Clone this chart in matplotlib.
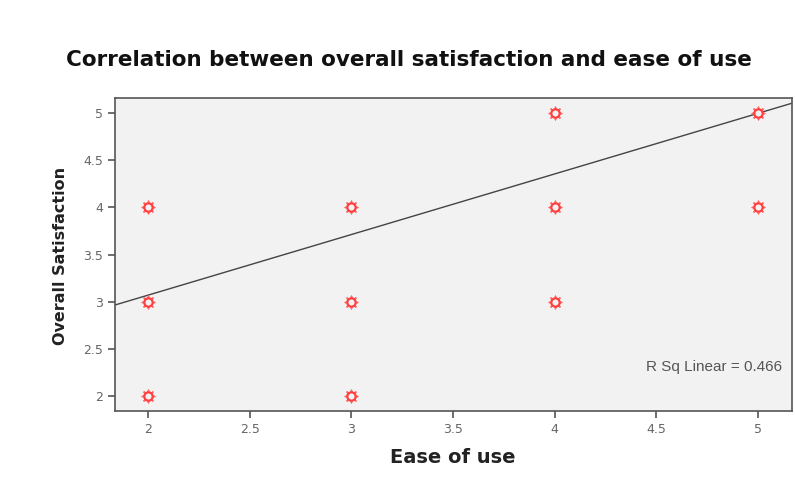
import matplotlib
matplotlib.use("Agg")
import matplotlib.pyplot as plt

# data
ease_of_use = [2, 2, 2, 3, 3, 3, 4, 4, 4, 5, 5]
satisfaction = [4, 3, 2, 4, 3, 2, 5, 4, 3, 5, 4]
fit_intercept = 1.783
fit_slope = 0.643
r_sq = 0.466

xticks = [2, 2.5, 3, 3.5, 4, 4.5, 5]
yticks = [2, 2.5, 3, 3.5, 4, 4.5, 5]

fig = plt.figure(figsize=(7.95, 4.83), dpi=100)
ax = fig.add_axes([0.1447, 0.149, 0.8515, 0.648])
ax.set_facecolor('#f2f2f2')

# sun-like markers: spikes + ring
ax.scatter(ease_of_use, satisfaction, marker=(8, 2, 0), s=80, c='#ff6a6a', linewidths=1.1, zorder=3)
ax.scatter(ease_of_use, satisfaction, marker='o', s=36, facecolors='#f2f2f2', edgecolors='#ff4040', linewidths=1.6, zorder=4)

ax.axline((0, fit_intercept), slope=fit_slope, color='#444444', lw=1, zorder=2)

ax.set_xlim(1.838, 5.167)
ax.set_ylim(1.84, 5.16)
ax.set_xticks(xticks)
ax.set_yticks(yticks)
ax.set_xticklabels([f'{t:g}' for t in xticks])
ax.set_yticklabels([f'{t:g}' for t in yticks])
ax.tick_params(length=5, width=1.2, color='#555555', labelcolor='#666666', labelsize=9)

for s in ax.spines.values():
    s.set_color('#555555')
    s.set_linewidth(1.2)

ax.text(0.985, 0.14, f'R Sq Linear = {r_sq}', transform=ax.transAxes,
        ha='right', va='center', fontsize=11, color='#555555',
        family='Liberation Sans')

fig.text(0.515, 0.875, 'Correlation between overall satisfaction and ease of use',
         ha='center', va='center', fontsize=15.5, fontweight='bold', color='#111111')
fig.text(0.57, 0.052, 'Ease of use', ha='center', va='center', fontsize=14,
         fontweight='bold', color='#222222')
fig.text(0.076, 0.47, 'Overall Satisfaction', ha='center', va='center', rotation=90,
         fontsize=11.5, fontweight='bold', color='#222222')

fig.savefig('out.png', dpi=100)
